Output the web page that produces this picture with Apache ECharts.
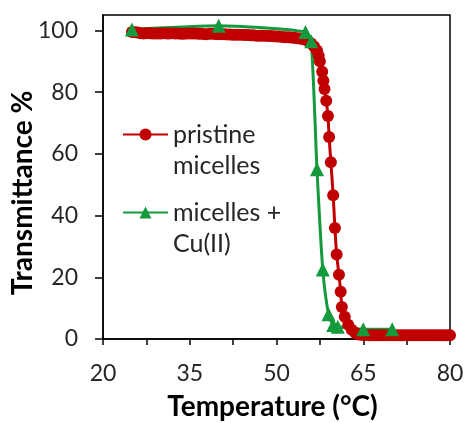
<!DOCTYPE html>
<html>
<head>
<meta charset="utf-8">
<script src="https://cdn.jsdelivr.net/npm/echarts@6/dist/echarts.min.js"></script>
<style>
  html, body { margin: 0; padding: 0; background: #fff; }
  #chart { width: 464px; height: 423px; }
</style>
</head>
<body>
<div id="chart"></div>
<script>
// ---- data ----
const seriesNames = ['pristine\nmicelles', 'micelles +\nCu(II)'];
const pristineTemp = [25, 25.5, 26, 26.5, 27, 27.5, 28, 28.5, 29, 29.5, 30, 30.5, 31, 31.5, 32, 32.5, 33, 33.5, 34, 34.5, 35, 35.5, 36, 36.5, 37, 37.5, 38, 38.5, 39, 39.5, 40, 40.5, 41, 41.5, 42, 42.5, 43, 43.5, 44, 44.5, 45, 45.5, 46, 46.5, 47, 47.5, 48, 48.5, 49, 49.5, 50, 50.5, 51, 51.5, 52, 52.5, 53, 53.5, 54, 54.5, 55, 55.5, 56, 56.5, 57, 57.3, 57.5, 57.9, 58.1, 58.3, 58.6, 58.9, 59.1, 59.4, 59.8, 60.1, 60.4, 60.8, 61.1, 61.3, 61.8, 62.4, 63, 63.6, 64, 64.5, 65, 65.5, 66, 66.5, 67, 67.5, 68, 68.5, 69, 69.5, 70, 70.5, 71, 71.5, 72, 72.5, 73, 73.5, 74, 74.5, 75, 75.5, 76, 76.5, 77, 77.5, 78, 78.5, 79, 79.5, 80];
const pristineTrans = [99.5, 99.4, 99.3, 99.1, 99.0, 99.1, 99.1, 99.0, 99.0, 99.0, 99.0, 99.1, 99.0, 99.0, 99.1, 99.0, 99.0, 98.9, 98.9, 99.0, 99.0, 99.0, 99.0, 98.9, 98.9, 98.8, 98.8, 98.9, 98.9, 98.8, 98.8, 98.8, 98.8, 98.7, 98.7, 98.6, 98.6, 98.6, 98.6, 98.5, 98.5, 98.4, 98.4, 98.3, 98.3, 98.3, 98.3, 98.2, 98.2, 98.1, 98.0, 98.0, 97.9, 97.8, 97.8, 97.7, 97.6, 97.5, 97.4, 97.2, 97.0, 96.5, 95.8, 94.8, 93.5, 91.8, 90.0, 86.6, 83.7, 81.0, 77.2, 72.3, 65.5, 57.3, 46.6, 36.0, 27.4, 20.8, 15.3, 10.4, 7.2, 4.6, 3.0, 2.0, 1.5, 1.4, 1.3, 1.3, 1.2, 1.2, 1.2, 1.2, 1.2, 1.2, 1.2, 1.2, 1.2, 1.2, 1.2, 1.2, 1.2, 1.2, 1.2, 1.2, 1.2, 1.2, 1.2, 1.2, 1.2, 1.2, 1.2, 1.2, 1.2, 1.2, 1.2, 1.2, 1.2];
const cuTemp = [25, 40, 55, 56, 57, 58, 59, 59.8, 60.6, 65, 70];
const cuTrans = [100.3, 101.5, 99.5, 96.5, 55, 22.5, 8, 4.5, 4, 3.2, 3.2];
const xTickValues = [20, 27.5, 35, 42.5, 50, 57.5, 65, 72.5, 80];
const xLabelValues = [20, 35, 50, 65, 80];
const yTickValues = [0, 20, 40, 60, 80, 100];
const xTitle = 'Temperature (°C)';
const yTitle = 'Transmittance %';

const pair = (xs, ys) => xs.map((x, i) => [x, ys[i]]);
const RED = '#C00000';
const GREEN = '#14993C';
const FONT = 'Lato';
const TXT = '#262626';

const legendBase = {
  left: 122, padding: 0, itemWidth: 45, itemHeight: 15, itemGap: 0,
  formatter: name => '\n' + name,
  textStyle: { fontFamily: FONT, fontSize: 25, color: TXT, lineHeight: 31 }
};

const chart = echarts.init(document.getElementById('chart'), null, { renderer: 'canvas' });
chart.setOption({
  animation: false,
  backgroundColor: '#fff',
  grid: {
    left: 103, right: 14, top: 15, bottom: 84,
    containLabel: false, outerBoundsMode: 'none',
    show: true, borderColor: '#000', borderWidth: 1.5, backgroundColor: 'transparent'
  },
  legend: [
    Object.assign({}, legendBase, { data: [seriesNames[0]], top: 88 }),
    Object.assign({}, legendBase, { data: [seriesNames[1]], top: 166 })
  ],
  xAxis: {
    type: 'value', min: 20, max: 80,
    name: xTitle, nameLocation: 'middle', nameGap: 54,
    nameTextStyle: { fontFamily: FONT, fontSize: 28, fontWeight: 'bold', color: '#000', padding: [0, 8, 0, 0] },
    axisLine: { show: true, onZero: false, lineStyle: { color: '#000', width: 1.5 } },
    axisTick: { show: true, inside: false, length: 6, customValues: xTickValues, lineStyle: { color: '#000', width: 1.5 } },
    axisLabel: { customValues: xLabelValues, fontFamily: FONT, fontSize: 23, color: TXT, margin: 23 },
    splitLine: { show: false }
  },
  yAxis: {
    type: 'value', min: 0, max: 105,
    name: yTitle, nameLocation: 'middle', nameGap: 66, nameRotate: 90, nameMoveOverlap: false,
    nameTextStyle: { fontFamily: FONT, fontSize: 28, fontWeight: 'bold', color: '#000', padding: [0, 32, 0, 0] },
    axisLine: { show: true, onZero: false, lineStyle: { color: '#000', width: 1.5 } },
    axisTick: { show: true, inside: false, length: 8, customValues: yTickValues, lineStyle: { color: '#000', width: 1.5 } },
    axisLabel: { customValues: yTickValues, fontFamily: FONT, fontSize: 23, color: TXT, margin: 25 },
    splitLine: { show: false }
  },
  series: [
    {
      name: seriesNames[0], type: 'line', data: pair(pristineTemp, pristineTrans),
      symbol: 'circle', symbolSize: 12, smooth: 0.2,
      lineStyle: { color: RED, width: 3 }, itemStyle: { color: RED }
    },
    {
      name: seriesNames[1], type: 'line', data: pair(cuTemp, cuTrans),
      symbol: 'triangle', symbolSize: 14, smooth: 0.2,
      lineStyle: { color: GREEN, width: 3 }, itemStyle: { color: GREEN }
    }
  ]
});
</script>
</body>
</html>
